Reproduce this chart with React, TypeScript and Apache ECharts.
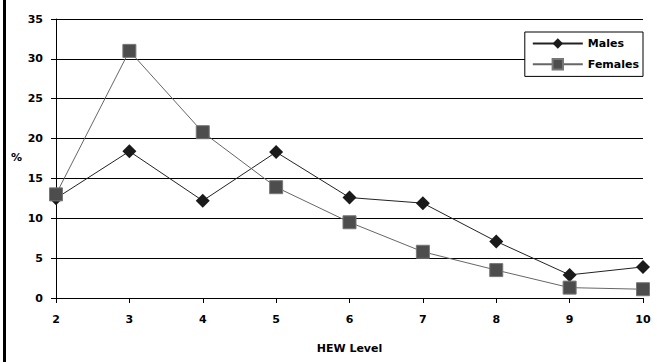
import React, { useEffect, useRef } from "react";
import * as echarts from "echarts";

const categories = ["2", "3", "4", "5", "6", "7", "8", "9", "10"];
const males = [12.5, 18.4, 12.2, 18.3, 12.6, 11.9, 7.1, 2.9, 3.9];
const females = [13.0, 31.0, 20.8, 13.9, 9.5, 5.8, 3.5, 1.3, 1.1];

const FONT = "'DejaVu Sans', Arial, sans-serif";

export default function App() {
  const ref = useRef<HTMLDivElement>(null);
  useEffect(() => {
    if (!ref.current) return;
    const chart = echarts.init(ref.current, undefined, { renderer: "svg" });
    chart.setOption({
      animation: false,
      backgroundColor: "#fff",
      grid: { left: 56, right: 14, top: 19, bottom: 64 },
      legend: {
        orient: "vertical",
        right: 14,
        top: 32,
        padding: [6, 4, 6, 7],
        itemGap: 9,
        itemWidth: 50,
        itemHeight: 13,
        borderColor: "#000",
        borderWidth: 1,
        backgroundColor: "#fff",
        textStyle: { fontFamily: FONT, fontWeight: "bold", fontSize: 11, color: "#000" },
        data: ["Males", "Females"],
      },
      xAxis: {
        type: "category",
        data: categories,
        boundaryGap: false,
        name: "HEW Level",
        nameLocation: "middle",
        nameGap: 45,
        nameTextStyle: { fontFamily: FONT, fontWeight: "bold", fontSize: 11, color: "#000" },
        axisLine: { lineStyle: { color: "#000", width: 1 } },
        axisTick: { show: true, length: 5, lineStyle: { color: "#000" } },
        axisLabel: { fontFamily: FONT, fontWeight: "bold", fontSize: 11, color: "#000", margin: 16 },
        splitLine: { show: false },
      },
      yAxis: {
        type: "value",
        min: 0,
        max: 35,
        interval: 5,
        axisLine: { show: true, lineStyle: { color: "#000", width: 1 } },
        axisTick: { show: true, length: 5, lineStyle: { color: "#000" } },
        axisLabel: { fontFamily: FONT, fontWeight: "bold", fontSize: 11, color: "#000", margin: 13 },
        splitLine: { show: true, lineStyle: { color: "#000", width: 1 } },
      },
      graphic: [
        {
          type: "rect",
          shape: { x: 3, y: 0, width: 3, height: 362 },
          style: { fill: "#000" },
        },
        {
          type: "text",
          left: 11,
          top: 152,
          style: { text: "%", fontFamily: FONT, fontWeight: "bold", fontSize: 11, fill: "#000" },
        },
      ],
      series: [
        {
          name: "Males",
          type: "line",
          data: males,
          symbol: "diamond",
          symbolSize: 14,
          lineStyle: { color: "#222", width: 1 },
          itemStyle: { color: "#1a1a1a", borderColor: "#1a1a1a", borderWidth: 0 },
          z: 3,
        },
        {
          name: "Females",
          type: "line",
          data: females,
          symbol: "rect",
          symbolSize: 13,
          lineStyle: { color: "#666", width: 1 },
          itemStyle: { color: "#4d4d4d", borderColor: "#777", borderWidth: 1 },
          z: 4,
        },
      ],
    });
    return () => chart.dispose();
  }, []);
  return (
    <div
      ref={ref}
      style={{ position: "fixed", left: 0, top: 0, width: 657, height: 362 }}
    />
  );
}
